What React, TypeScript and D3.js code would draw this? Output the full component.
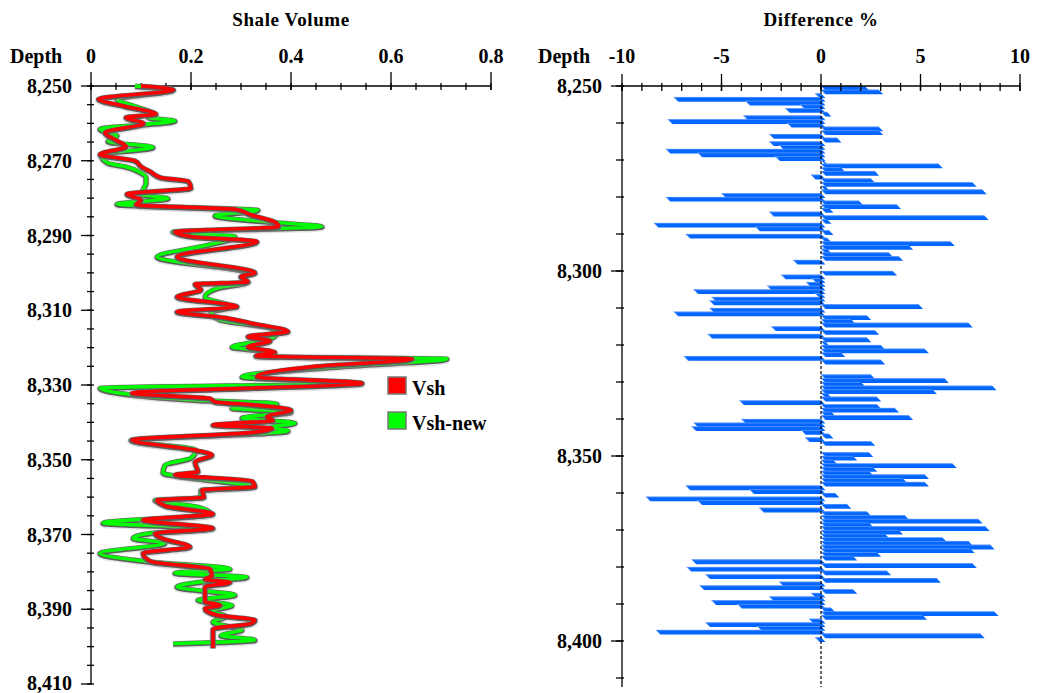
import * as d3 from "d3";

// depth track labels
const leftDepthTicks = [8250, 8270, 8290, 8310, 8330, 8350, 8370, 8390, 8410];
const rightDepthTicks = [8250, 8300, 8350, 8400];
const vshTicks = [0, 0.2, 0.4, 0.6, 0.8];
const diffTicks = [-10, -5, 0, 5, 10];

// Vsh curve (red), turning points
const vshDepth = [
  8250, 8251, 8253.5, 8255.5, 8257.5, 8258.4, 8260, 8262.5, 8264.5, 8266.2, 8268.3, 8270, 8271.5,
  8273, 8274.5, 8275.5, 8277.3, 8278.9, 8280.5, 8281.8, 8283, 8284.5, 8286.4, 8287.6, 8289, 8290.3,
  8291.6, 8295.7, 8300, 8301, 8302.4, 8303, 8304.5, 8306.4, 8309, 8310.4, 8312, 8313.5, 8315.7,
  8317, 8318.2, 8319.8, 8321.2, 8322.2, 8323, 8325, 8327.8, 8329.5, 8332.2, 8333.6, 8334.5, 8335.3,
  8336.7, 8338.5, 8339.5, 8340.7, 8341.6, 8342.7, 8344.7, 8347.4, 8348.7, 8350.6, 8353.2, 8354,
  8355.7, 8357.2, 8358.1, 8360, 8360.8, 8362.4, 8364.5, 8366.1, 8368.3, 8369.7, 8371, 8373.3, 8375,
  8377.3, 8379.2, 8381, 8382, 8382.8, 8384, 8388, 8388.9, 8389.8, 8391.5, 8392.9, 8393.8, 8395.3,
  8400.4,
];
const vsh = [
  0.1, 0.165, 0.015, 0.07, 0.13, 0.07, 0.105, 0.028, 0.05, 0.07, 0.018, 0.088, 0.1,
  0.12, 0.14, 0.195, 0.2, 0.072, 0.1, 0.09, 0.29, 0.32, 0.368, 0.375, 0.168, 0.2,
  0.332, 0.172, 0.328, 0.3, 0.314, 0.208, 0.22, 0.172, 0.292, 0.172, 0.268, 0.322, 0.394,
  0.314, 0.358, 0.314, 0.368, 0.33, 0.642, 0.45, 0.332, 0.542, 0.082, 0.238, 0.248, 0.322,
  0.4, 0.352, 0.364, 0.244, 0.362, 0.322, 0.082, 0.208, 0.242, 0.208, 0.214, 0.168,
  0.322, 0.328, 0.222, 0.226, 0.132, 0.15, 0.244, 0.104, 0.244, 0.128, 0.142, 0.198, 0.104,
  0.122, 0.238, 0.242, 0.228, 0.278, 0.228, 0.228, 0.258, 0.228, 0.25, 0.328, 0.32, 0.244,
  0.244,
];

// Vsh-new curve (green)
const vshNewDepth = [
  8250, 8251, 8253.5, 8255.5, 8257.6, 8258.4, 8259.3, 8261.5, 8263.3, 8264.8, 8266.4, 8268.3,
  8270.6, 8271.6, 8273.2, 8274.5, 8276, 8277.5, 8279, 8280.1, 8281.6, 8283.2, 8284.7, 8286.5,
  8287.6, 8289, 8290.3, 8292.5, 8295.7, 8300, 8301, 8302.4, 8304, 8306.4, 8309, 8310.5, 8312.5,
  8314.8, 8316.5, 8318, 8319.8, 8321.2, 8322.2, 8323, 8325, 8327.8, 8329.5, 8330.8, 8332.2, 8334,
  8335, 8336.2, 8337.2, 8338.8, 8340.2, 8341.3, 8342.3, 8344.7, 8347.4, 8349.5, 8351.4, 8353.5,
  8354.3, 8356.2, 8357.2, 8358.1, 8360, 8360.8, 8362.6, 8364.5, 8366.9, 8368.3, 8369.6, 8371,
  8372.3, 8375, 8377.3, 8379.2, 8380.3, 8381.4, 8382.5, 8384, 8386.2, 8387.5, 8388.9, 8390.5,
  8391.8, 8393.4, 8395.5, 8397, 8398.2, 8399.2,
];
const vshNew = [
  0.088, 0.16, 0.052, 0.09, 0.128, 0.115, 0.168, 0.018, 0.052, 0.034, 0.124, 0.02,
  0.034, 0.07, 0.1, 0.11, 0.11, 0.105, 0.1, 0.154, 0.052, 0.334, 0.248, 0.37,
  0.462, 0.164, 0.288, 0.234, 0.132, 0.314, 0.3, 0.314, 0.254, 0.228, 0.28, 0.24, 0.258,
  0.362, 0.37, 0.35, 0.282, 0.36, 0.33, 0.712, 0.5, 0.302, 0.54, 0.018, 0.06, 0.214,
  0.372, 0.282, 0.4, 0.302, 0.408, 0.36, 0.394, 0.08, 0.21, 0.2, 0.148, 0.144,
  0.17, 0.284, 0.32, 0.22, 0.22, 0.128, 0.214, 0.24, 0.024, 0.24, 0.12, 0.084,
  0.148, 0.018, 0.12, 0.278, 0.168, 0.312, 0.23, 0.172, 0.288, 0.214, 0.282, 0.24,
  0.27, 0.244, 0.302, 0.26, 0.328, 0.164,
];

// Difference % per foot, starting at 8,250
const diffTop = 8250;
const diffPct = [
  2.2, 2.9, -0.3, -7.4, -3.8, -1.05, -1.8, 0.3, -3.9, -7.7,
  -1.7, 2.9, 2.9, -2.6, 0.8, -2.6, -2.1, -7.8, -6.2, -2.3,
  0.1, 5.9, 1.0, 2.7, -0.5, 2.5, 7.6, 0.2, 8.1, -5.0,
  -7.8, 1.9, 3.8, 0.4, -2.6, 8.2, 0.3, -8.4, -3.3, 0.4,
  -6.8, 0.3, 6.5, 4.4, 0.3, 3.4, 3.9, -1.4, 0, 0,
  3.6, -2.0, -0.45, -0.75, -2.7, -6.4, -0.3, -5.5, -5.6, 4.9,
  -5.6, -7.4, 2.3, 1.5, 7.4, -2.5, 2.7, -5.7, 2.3, 0.2,
  3.0, 5.2, 1.0, -6.9, 3.0, 0, 0, 0, 2.5, 6.2,
  2.0, 8.6, 5.6, 0.3, 2.8, -4.1, 2.8, 3.7, 0.5, 4.4,
  -4.0, -6.4, -6.5, -1.0, 0.4, -0.8, 2.5, 0, 0, 2.4,
  1.6, 0.6, 6.6, 2.6, 2.4, 5.2, 4.1, 5.2, -6.8, -3.6,
  0.7, -8.8, -6.2, 1.3, -3.1, 2.3, 4.2, 7.9, 2.4, 8.25,
  3.9, 3.2, 6.1, 7.4, 8.5, 7.5, 2.8, 1.6, -6.5, 7.6,
  -6.75, 3.3, -5.8, 5.8, -2.1, -6.1, 1.6, -0.5, -2.6, -5.5,
  -4.2, 0.5, 8.7, 5.1, -0.6, -5.8, -3.2, -8.3, 8.0, -0.3,
];

const FONT = "'Liberation Serif', 'DejaVu Serif', serif";

const App = () => {
  const W = 1038;
  const H = 693;

  // left track
  const xL = d3.scaleLinear().domain([0, 0.8]).range([91, 491]);
  const yL = d3.scaleLinear().domain([8250, 8410]).range([86, 684]);
  // right track
  const xR = d3.scaleLinear().domain([-10, 10]).range([622, 1020]);
  const yR = d3.scaleLinear().domain([8250, 8400]).range([86, 641]);
  const rightBottom = 687;

  const line = d3
    .line<[number, number]>()
    .x((d) => xL(d[1]))
    .y((d) => yL(d[0]))
    .curve(d3.curveMonotoneY);

  const redPath = line(vshDepth.map((d, i) => [d, vsh[i]]))!;
  const greenPath = line(vshNewDepth.map((d, i) => [d, vshNew[i]]))!;

  const minorL = d3.range(0, 0.8001, 0.05);
  const minorR = d3.range(-10, 10.001, 1);
  const minorDL = d3.range(8250, 8411, 5);
  const minorDR = d3.range(8250, 8411, 10);

  // tube-like trace: soft shadow, dark rim, coloured core
  const ribbon = (d: string, color: string) => (
    <g>
      <path d={d} fill="none" stroke="#aaa" strokeWidth={7.5} strokeOpacity={0.3} strokeLinejoin="round" transform="translate(0,1)" />
      <path d={d} fill="none" stroke="#5c5c5c" strokeWidth={5.4} strokeLinejoin="round" transform="translate(0,0.5)" />
      <path d={d} fill="none" stroke={color} strokeWidth={3.4} strokeLinejoin="round" />
    </g>
  );

  const slant = 4.5;

  return (
    <svg
      width={W}
      height={H}
      style={{ position: "absolute", left: 0, top: 0, background: "#fff" }}
      fontFamily={FONT}
      fontWeight="bold"
    >
      {/* titles */}
      <text x={291} y={26} textAnchor="middle" fontSize={19} letterSpacing={0.6}>
        Shale Volume
      </text>
      <text x={821} y={26} textAnchor="middle" fontSize={19} letterSpacing={0.6}>
        Difference %
      </text>
      <text x={10} y={63} fontSize={20}>Depth</text>
      <text x={538} y={63} fontSize={20}>Depth</text>

      {/* ---- left track ---- */}
      <g stroke="#000" strokeWidth={1.3}>
        <line x1={xL(0)} x2={xL(0.8)} y1={86} y2={86} />
        <line x1={91} x2={91} y1={86} y2={yL(8410)} />
        {minorL.map((v) => (
          <line key={"ml" + v} x1={xL(v)} x2={xL(v)} y1={83} y2={90} />
        ))}
        {vshTicks.map((v) => (
          <line key={"Ml" + v} x1={xL(v)} x2={xL(v)} y1={72} y2={90} />
        ))}
        {minorDL.map((d) => (
          <line key={"md" + d} x1={87} x2={94} y1={yL(d)} y2={yL(d)} />
        ))}
        {leftDepthTicks.map((d) => (
          <line key={"Md" + d} x1={81} x2={92} y1={yL(d)} y2={yL(d)} />
        ))}
      </g>
      {vshTicks.map((v) => (
        <text key={"tl" + v} x={xL(v)} y={63} textAnchor="middle" fontSize={20}>
          {v === 0 ? "0" : d3.format(".1f")(v)}
        </text>
      ))}
      {leftDepthTicks.map((d) => (
        <text key={"dl" + d} x={72} y={Math.min(yL(d) + 7, 690)} textAnchor="end" fontSize={20}>
          {d3.format(",")(d)}
        </text>
      ))}

      {ribbon(greenPath, "#00ff00")}
      {ribbon(redPath, "#ff0000")}

      {/* legend */}
      <rect x={388} y={377} width={18} height={17} fill="#ff0000" stroke="#777" strokeWidth={1.5} />
      <text x={412} y={395} fontSize={20}>Vsh</text>
      <rect x={388} y={412} width={18} height={17} fill="#00ff00" stroke="#777" strokeWidth={1.5} />
      <text x={412} y={430} fontSize={20}>Vsh-new</text>

      {/* ---- right track ---- */}
      {diffPct.map((v, i) => {
        if (Math.abs(v) < 0.05) return null;
        const d = diffTop + i;
        const y0 = yR(d);
        const y1 = yR(d + 1) + 0.9;
        const x0 = xR(Math.min(0, v));
        const x1 = xR(Math.max(0, v));
        const pts = `${x0},${y0} ${x1},${y0} ${x1 + slant},${y1} ${x0 + slant},${y1}`;
        return (
          <g key={"b" + i}>
            <polygon points={pts} fill="#0066ff" />
            <line x1={x0} x2={x1} y1={y0 + 0.3} y2={y0 + 0.3} stroke="#6fa0ff" strokeWidth={0.7} />
            <line x1={x0} x2={x0 + slant} y1={y0} y2={y1} stroke="#8db3ff" strokeWidth={0.8} />
          </g>
        );
      })}
      <line x1={xR(0)} x2={xR(0)} y1={86} y2={rightBottom} stroke="#000" strokeWidth={1.2} strokeDasharray="3,2" />

      <g stroke="#000" strokeWidth={1.3}>
        <line x1={xR(-10)} x2={xR(10)} y1={86} y2={86} />
        <line x1={622} x2={622} y1={86} y2={rightBottom} />
        {minorR.map((v) => (
          <line key={"mr" + v} x1={xR(v)} x2={xR(v)} y1={83} y2={91} />
        ))}
        {diffTicks.map((v) => (
          <line key={"Mr" + v} x1={xR(v)} x2={xR(v)} y1={74} y2={91} />
        ))}
        {minorDR.map((d) => (
          <line key={"mdr" + d} x1={616} x2={624} y1={yR(d)} y2={yR(d)} />
        ))}
        {rightDepthTicks.map((d) => (
          <line key={"Mdr" + d} x1={611} x2={623} y1={yR(d)} y2={yR(d)} />
        ))}
      </g>
      {diffTicks.map((v) => (
        <text key={"tr" + v} x={xR(v)} y={63} textAnchor="middle" fontSize={20}>
          {v}
        </text>
      ))}
      {rightDepthTicks.map((d) => (
        <text key={"dr" + d} x={602} y={yR(d) + 7} textAnchor="end" fontSize={20}>
          {d3.format(",")(d)}
        </text>
      ))}
    </svg>
  );
};

export default App;
